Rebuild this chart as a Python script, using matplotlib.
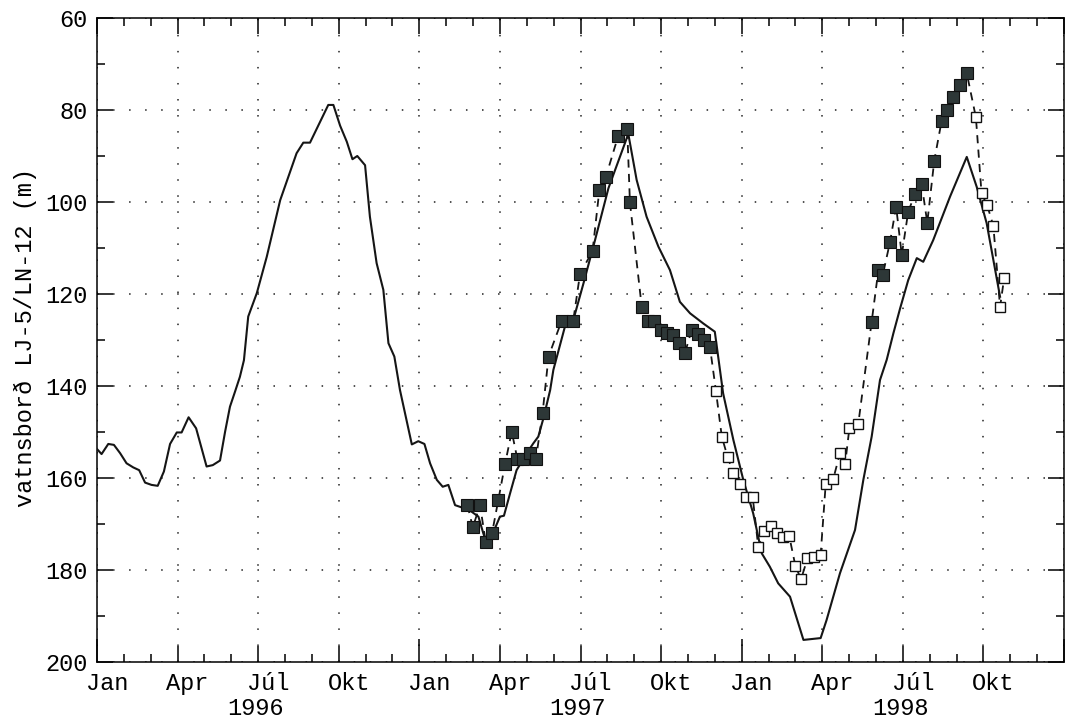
import numpy as np
import matplotlib
matplotlib.use("Agg")
import matplotlib.pyplot as plt

# months counted from Jan 1996, water level (m), axis inverted
line_m = [0, 0.17, 0.42, 0.63, 0.86, 1.1, 1.35, 1.57, 1.79, 2.03, 2.26, 2.49, 2.72, 2.97, 3.15,
          3.41, 3.69, 4.08, 4.31, 4.58, 4.77, 4.95, 5.14, 5.32, 5.47, 5.63, 5.95, 6.32, 6.82, 7.43,
          7.68, 7.93, 8.61, 8.8, 9.05, 9.3, 9.51, 9.69, 9.98, 10.16, 10.41, 10.66, 10.85, 11.07,
          11.28, 11.72, 11.96, 12.19, 12.4, 12.65, 12.87, 13.08, 13.33, 13.58, 13.94, 14.2, 14.38,
          14.51, 14.82, 15.0, 15.15, 15.38, 15.62, 16.0, 16.24, 16.43, 16.62, 16.87, 16.99, 17.42,
          17.73, 18.11, 18.54, 19.04, 19.78, 20.09, 20.46, 20.9, 21.33, 21.7, 22.08, 22.57, 23.0,
          23.31, 23.69, 24.06, 24.43, 24.75, 25.05, 25.36, 25.8, 26.3, 26.94, 27.16, 27.66, 28.22,
          28.53, 28.84, 29.15, 29.4, 29.65, 29.9, 30.2, 30.52, 30.76, 31.13, 31.76, 32.38, 32.75,
          33.12, 33.62]
line_v = [153.7, 154.8, 152.6, 152.8, 154.6, 156.8, 157.7, 158.3, 161.0, 161.5, 161.7, 158.6,
          152.6, 150.1, 150.1, 146.8, 149.2, 157.5, 157.2, 156.2, 149.9, 144.5, 141.2, 138.0,
          134.4, 124.9, 119.8, 111.9, 99.6, 89.4, 87.1, 87.1, 78.9, 78.9, 83.4, 86.9, 90.7, 90.0,
          92.0, 103.2, 113.3, 119.1, 130.7, 133.6, 140.9, 152.7, 152.0, 152.6, 156.8, 160.4,
          161.9, 161.5, 165.9, 166.4, 167.3, 168.4, 172.0, 174.2, 170.9, 168.4, 168.2, 163.3,
          158.3, 154.6, 152.5, 151.0, 147.0, 140.9, 136.5, 127.1, 125.7, 117.7, 108.3, 97.0,
          85.2, 95.2, 103.2, 109.7, 114.8, 121.7, 124.2, 126.4, 128.2, 141.6, 151.7, 160.4,
          167.7, 176.4, 179.3, 182.9, 185.8, 195.2, 194.8, 190.9, 180.7, 171.3, 160.4, 151.0,
          138.7, 134.3, 128.5, 123.1, 117.0, 112.2, 113.0, 108.3, 98.8, 90.2, 96.7, 104.6, 120.6]

filled1_m = [13.79, 13.99, 14.26, 14.47, 14.71, 14.94, 15.19, 15.44, 15.65, 15.87, 16.12, 16.34,
             16.59, 16.81, 17.30, 17.73, 17.98, 18.45, 18.70, 18.94, 19.40, 19.74, 19.84, 20.28,
             20.52, 20.74, 20.99, 21.21, 21.46, 21.68, 21.89, 22.14, 22.39, 22.60, 22.82]
filled1_v = [165.9, 170.7, 165.9, 173.9, 171.9, 164.8, 157.0, 149.9, 155.9, 155.9, 154.6, 155.9,
             145.8, 133.6, 125.8, 125.8, 115.7, 110.6, 97.5, 94.6, 85.7, 84.2, 100.1, 122.8,
             125.8, 125.8, 127.8, 128.4, 128.9, 130.7, 132.8, 127.8, 128.7, 129.9, 131.5]

open1_m = [23.04, 23.26, 23.48, 23.69, 23.94, 24.16, 24.41, 24.62, 24.83, 25.08, 25.33, 25.55,
           25.77, 26.00, 26.21, 26.45, 26.69, 26.94, 27.13, 27.41, 27.66, 27.85, 28.01, 28.34]
open1_v = [141.0, 151.0, 155.5, 159.0, 161.2, 164.1, 164.1, 175.1, 171.5, 170.4, 172.0, 172.9,
           172.6, 179.1, 182.0, 177.5, 177.1, 176.7, 161.2, 160.2, 154.6, 157.0, 149.2, 148.3]

filled2_m = [28.84, 29.09, 29.25, 29.52, 29.75, 29.96, 30.20, 30.45, 30.70, 30.91, 31.17, 31.44,
             31.63, 31.88, 32.13, 32.38]
filled2_v = [126.0, 114.8, 115.9, 108.8, 101.0, 111.5, 102.1, 98.3, 96.1, 104.5, 91.0, 82.5,
             80.0, 77.1, 74.6, 72.0]

open2_m = [32.72, 32.93, 33.14, 33.37, 33.62, 33.77]
open2_v = [81.6, 98.1, 100.7, 105.2, 122.8, 116.6]

month_names = ["Jan", "Apr", "Júl", "Okt"]
years = ["1996", "1997", "1998"]

plt.rcParams['font.family'] = ['Liberation Mono', 'DejaVu Sans Mono']

fig = plt.figure(figsize=(10.68, 7.26), dpi=100)
ax = fig.add_axes([97 / 1068, 64 / 726, 967 / 1068, 644 / 726])

ax.plot(line_m, line_v, color='#151515', lw=1.5, zorder=3)

# dashed line runs through all the squares in time order
dash_m = filled1_m + open1_m + filled2_m + open2_m
dash_v = filled1_v + open1_v + filled2_v + open2_v
ax.plot(dash_m, dash_v, color='#151515', lw=1.3, ls=(0, (4.5, 3.5)), zorder=3)

for mm, vv in [(filled1_m, filled1_v), (filled2_m, filled2_v)]:
    ax.plot(mm, vv, ls='none', marker='s', ms=8, mfc='#2d3737', mec='#111111', mew=0.8, zorder=4)
for mm, vv in [(open1_m, open1_v), (open2_m, open2_v)]:
    ax.plot(mm, vv, ls='none', marker='s', ms=7.5, mfc='white', mec='#111111', mew=1.0, zorder=4)

ax.set_xlim(0, 36)
ax.set_ylim(200, 60)

qticks = np.arange(0, 37, 3)
ax.set_xticks(qticks)
ax.set_xticks(np.arange(0, 37, 1), minor=True)
ax.set_yticks(np.arange(60, 201, 20))
ax.set_yticks(np.arange(60, 201, 10), minor=True)

ax.tick_params(which='major', direction='in', length=11.5, width=1.1, top=True, right=True,
               labelbottom=False, labelsize=17, pad=7)
ax.tick_params(which='minor', direction='in', length=6, width=1.1, top=True, right=True)
for t, loc in zip(ax.xaxis.get_major_ticks(), qticks):
    if loc % 12 == 0:
        t.tick1line.set_markersize(16.5)

ax.grid(which='major', color='#222222', lw=1.1, ls=(0, (1, 9.5)))

for sp in ax.spines.values():
    sp.set_linewidth(1.1)

tr = ax.get_xaxis_transform()
for q in range(12):
    ax.text(q * 3 + 0.37, -0.016, month_names[q % 4], transform=tr, ha='center', va='top', fontsize=17)
for i, yr in enumerate(years):
    ax.text(6 + 12 * i - 0.1, -0.055, yr, transform=tr, ha='center', va='top', fontsize=17)

fig.text(25 / 1068, 1 - 338 / 726, "vatnsborð LJ-5/LN-12 (m)", rotation=90,
         ha='center', va='center', fontsize=17)

fig.savefig("out.png", dpi=100)
